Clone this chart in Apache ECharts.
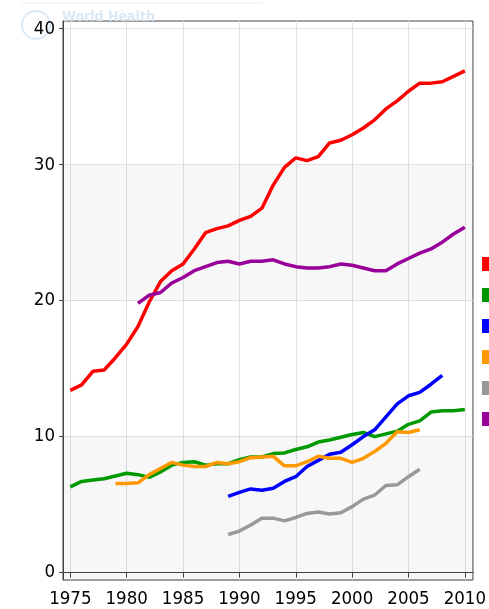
<!DOCTYPE html>
<html>
<head>
<meta charset="utf-8">
<script src="https://cdn.jsdelivr.net/npm/echarts@6/dist/echarts.min.js"></script>
<style>
  html, body { margin: 0; padding: 0; background: #fff; }
  #main { width: 489px; height: 609px; }
</style>
</head>
<body>
<div id="main"></div>
<script>
// 年份
var years = [1975, 1976, 1977, 1978, 1979, 1980, 1981, 1982, 1983, 1984,
  1985, 1986, 1987, 1988, 1989, 1990, 1991, 1992, 1993, 1994,
  1995, 1996, 1997, 1998, 1999, 2000, 2001, 2002, 2003, 2004,
  2005, 2006, 2007, 2008, 2009, 2010];

// 各条线的数值 (null = 没有数据)
var redVals = [13.4, 13.8, 14.8, 14.9, 15.8, 16.8, 18.1, 19.9, 21.4, 22.2,
  22.7, 23.8, 25.0, 25.3, 25.5, 25.9, 26.2, 26.8, 28.5, 29.8,
  30.5, 30.3, 30.6, 31.6, 31.8, 32.2, 32.7, 33.3, 34.1, 34.7,
  35.4, 36.0, 36.0, 36.1, 36.5, 36.9];
var greenVals = [6.3, 6.7, 6.8, 6.9, 7.1, 7.3, 7.2, 7.0, 7.4, 7.9,
  8.1, 8.15, 7.9, 8.0, 8.0, 8.3, 8.5, 8.5, 8.75, 8.8,
  9.05, 9.25, 9.6, 9.75, 9.95, 10.15, 10.3, 10.0, 10.2, 10.4,
  10.9, 11.15, 11.8, 11.9, 11.9, 12.0];
var blueVals = [null, null, null, null, null, null, null, null, null, null,
  null, null, null, null, 5.6, 5.9, 6.15, 6.05, 6.2, 6.7,
  7.05, 7.8, 8.25, 8.7, 8.85, 9.4, 10.0, 10.5, 11.45, 12.4,
  13.0, 13.25, 13.85, 14.5, null, null];
var orangeVals = [null, null, null, null, 6.55, 6.55, 6.6, 7.2, 7.65, 8.1,
  7.9, 7.8, 7.8, 8.1, 8.0, 8.15, 8.45, 8.5, 8.55, 7.85,
  7.85, 8.15, 8.55, 8.4, 8.4, 8.1, 8.4, 8.9, 9.5, 10.35,
  10.3, 10.5, null, null, null, null];
var grayVals = [null, null, null, null, null, null, null, null, null, null,
  null, null, null, null, 2.8, 3.05, 3.5, 4.0, 4.0, 3.8,
  4.05, 4.35, 4.45, 4.3, 4.4, 4.85, 5.4, 5.7, 6.4, 6.45,
  7.05, 7.6, null, null, null, null];
var purpleVals = [null, null, null, null, null, null, 19.8, 20.4, 20.6, 21.3,
  21.7, 22.2, 22.5, 22.8, 22.9, 22.7, 22.9, 22.9, 23.0, 22.7,
  22.5, 22.4, 22.4, 22.5, 22.7, 22.6, 22.4, 22.2, 22.2, 22.7,
  23.1, 23.5, 23.8, 24.3, 24.9, 25.4];

// 刻度
var xTicks = [1975, 1980, 1985, 1990, 1995, 2000, 2005, 2010];
var yTicks = [0, 10, 20, 30, 40];

var names = ['Series 1', 'Series 2', 'Series 3', 'Series 4', 'Series 5', 'Series 6'];
var colors = ['#ff0000', '#009900', '#0000ff', '#ff9900', '#999999', '#990099'];
var allVals = [redVals, greenVals, blueVals, orangeVals, grayVals, purpleVals];

function pairs(vals) {
  return years.map(function (y, i) { return [y, vals[i]]; });
}

var series = allVals.map(function (vals, k) {
  return {
    name: names[k],
    type: 'line',
    data: pairs(vals),
    showSymbol: false,
    connectNulls: false,
    lineStyle: { width: 3.5, color: colors[k] },
    itemStyle: { color: colors[k] }
  };
});

// 灰色的背景带
series[0].markArea = {
  silent: true,
  itemStyle: { color: 'rgba(0,0,0,0.03)' },
  data: [
    [{ yAxis: -0.55 }, { yAxis: 10 }],
    [{ yAxis: 20 }, { yAxis: 30 }]
  ]
};

var myChart = echarts.init(document.getElementById('main'));

var labelFont = 'DejaVu Sans Condensed';

var option = {
  animation: false,
  backgroundColor: '#fff',
  textStyle: { fontFamily: labelFont },
  graphic: [
    { type: 'line', shape: { x1: 22, y1: 3, x2: 262, y2: 3 }, style: { stroke: '#e3edf5', lineWidth: 1 } },
    { type: 'circle', shape: { cx: 36, cy: 25, r: 14 }, style: { fill: 'rgba(0,0,0,0)', stroke: '#dce9f5', lineWidth: 2 } },
    { type: 'text', left: 62, top: 10, style: { text: 'World Health', fill: '#dbe8f4', font: 'bold 14px DejaVu Sans Condensed' } }
  ],
  legend: {
    orient: 'vertical',
    left: 482,
    top: 257,
    padding: 0,
    icon: 'rect',
    itemWidth: 14,
    itemHeight: 14,
    itemGap: 17,
    data: names
  },
  grid: {
    left: 63,
    right: 14,
    top: 21,
    bottom: 29,
    show: true,
    backgroundColor: '#fff',
    borderColor: '#444',
    borderWidth: 1
  },
  xAxis: {
    type: 'value',
    min: 1974.35,
    max: 2010.72,
    axisLine: { lineStyle: { color: '#444' } },
    axisTick: { customValues: xTicks, length: 5, lineStyle: { color: '#444' } },
    axisLabel: {
      customValues: xTicks,
      margin: 10,
      fontSize: 18.5,
      color: '#000',
      fontFamily: labelFont,
      formatter: function (v) { return String(v); }
    },
    splitLine: { show: true, lineStyle: { color: '#e2e2e2' } }
  },
  yAxis: {
    type: 'value',
    min: -0.55,
    max: 40.57,
    axisLine: { show: true, lineStyle: { color: '#444' } },
    axisTick: { show: true, customValues: yTicks, length: 4, lineStyle: { color: '#444' } },
    axisLabel: { customValues: yTicks, margin: 8, fontSize: 18.5, color: '#000', fontFamily: labelFont },
    splitLine: { show: true, lineStyle: { color: '#e2e2e2' } }
  },
  series: series
};

myChart.setOption(option);
</script>
</body>
</html>
